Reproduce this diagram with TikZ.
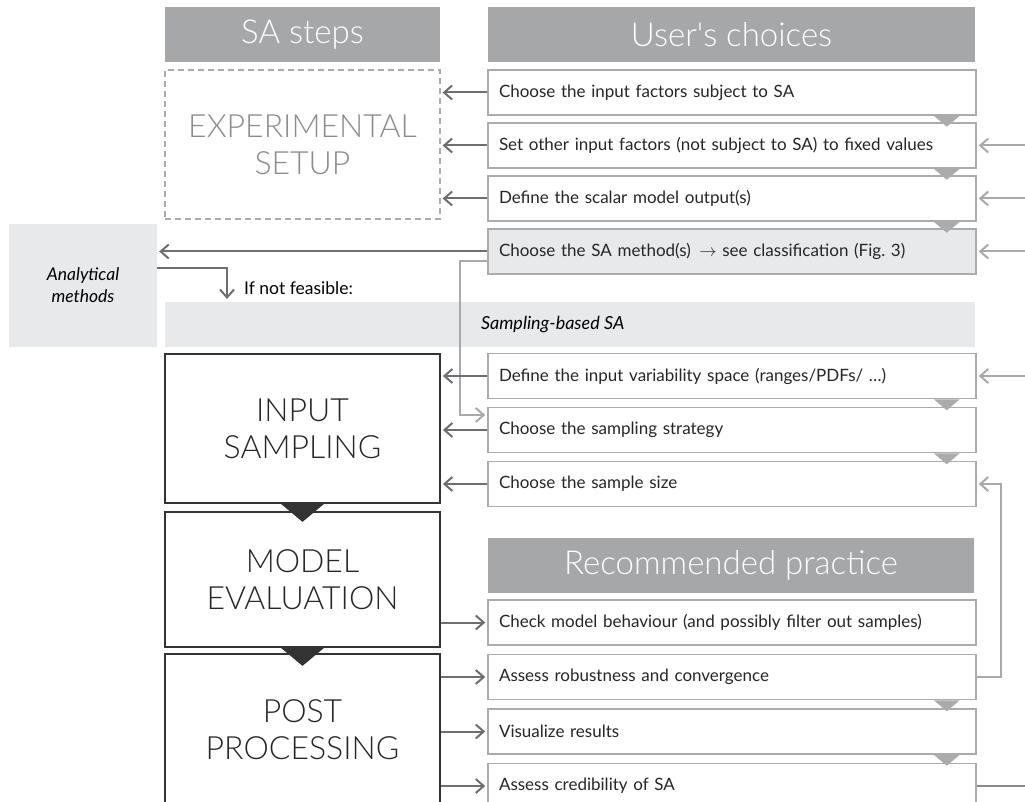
\documentclass[tikz,border=0pt]{standalone}
\usepackage{fontspec}
\setmainfont{Lato}
\newfontfamily\thinfont{Lato Light}
\usetikzlibrary{arrows.meta,calc,positioning}
\definecolor{hdrgray}{HTML}{A6A7A9}
\definecolor{bandgray}{HTML}{E8E9EA}
\definecolor{boxgray}{HTML}{ABABAB}
\definecolor{arrgray}{HTML}{6D6E71}
\definecolor{ingray}{HTML}{A7A9AC}
\definecolor{stepdark}{HTML}{333333}

\begin{document}
\begin{tikzpicture}[x=1pt,y=-1pt,
  hdr/.style={fill=hdrgray, text=white, minimum height=55pt, inner sep=0pt, font=\thinfont\fontsize{33}{38}\selectfont},
  choice/.style={draw=boxgray, line width=1.5pt, fill=white, text width=466pt, inner xsep=11pt, inner ysep=0pt, minimum height=45pt, align=left, font=\fontsize{17}{20}\selectfont, text=black!85},
  stepbox/.style={draw=stepdark, line width=1.8pt, minimum width=275pt, inner sep=0pt, align=center, font=\thinfont\fontsize{32}{37}\selectfont, text=black!85},
  band/.style={fill=bandgray, inner sep=0pt},
  darr/.style={draw=arrgray, line width=2pt, -{Straight Barb[length=8pt,width=14pt]}, shorten >=2pt},
  garr/.style={darr, draw=ingray}]
  \useasboundingbox (0,0) rectangle (1025,802);
  \coordinate (rim) at (1025,0);

  % column heads
  \node[hdr, minimum width=275pt] (hsa) at (302.5,34.5) {SA steps};
  \node[hdr, minimum width=487pt] (huc) at (731.5,34.5) {User's choices};

  % SA steps
  \node[stepbox, draw=boxgray, line width=1.2pt, dash pattern=on 6pt off 4pt, text=black!45, minimum height=149pt] (exp) at (302.5,144.5) {EXPERIMENTAL\\SETUP};
  \node[band, minimum width=148pt, minimum height=123pt, align=center, font=\itshape\fontsize{17.5}{22}\selectfont] (ana) at (83,285.5) {Analytical\\methods};
  \node[band, minimum width=810pt, minimum height=45pt] (smp) at (570,324.5) {};
  \node[right=316pt of smp.west, inner sep=0pt, font=\itshape\fontsize{18}{20}\selectfont] (smplbl) {Sampling-based SA};
  \node[anchor=west, inner sep=0pt, font=\fontsize{17.5}{20}\selectfont] (nfeas) at (244,288) {If not feasible:};
  \coordinate (nfend) at (227,301);
  \node[stepbox, minimum height=149pt] (ins) at (302.5,428.5) {INPUT\\SAMPLING};
  \node[stepbox, minimum height=135pt] (mod) at (302.5,579.5) {MODEL\\EVALUATION};
  \node[stepbox, minimum height=152pt] (post) at (302.5,730) {POST\\PROCESSING};

  % user's choices
  \node[choice] (c1) at (732,92.5) {Choose the input factors subject to SA};
  \node[choice, below=6.5pt of c1] (c2) {Set other input factors (not subject to SA) to fixed values};
  \node[choice, below=6.5pt of c2] (c3) {Define the scalar model output(s)};
  \node[choice, below=6.5pt of c3, fill=bandgray] (c4) {Choose the SA method(s) \,$\rightarrow$ see classification (Fig.\ 3)};
  \node[choice] (d1) at (732,376) {Define the input variability space (ranges/PDFs/ \dots)};
  \node[choice, below=7.5pt of d1] (d2) {Choose the sampling strategy};
  \node[choice, below=7.5pt of d2] (d3) {Choose the sample size};

  % recommended practice
  \node[hdr, minimum width=486pt] (hrp) at (731,565.5) {Recommended practice};
  \node[choice] (r1) at (732,622.5) {Check model behaviour (and possibly filter out samples)};
  \node[choice, below=8pt of r1] (r2) {Assess robustness and convergence};
  \node[choice, below=8pt of r2] (r3) {Visualize results};
  \node[choice, below=8pt of r3] (r4) {Assess credibility of SA};

  % order marks
  \foreach \b in {c1,c2,c3,d1,d2,r2,r3}
    \fill[boxgray] ($(\b.south east)+(-43,0)$) -- ++(26,0) -- ++(-13,11) -- cycle;
  \foreach \b in {ins,mod}
    \fill[stepdark] ($(\b.south)+(-21.5,0)$) -- ++(43,0) -- ++(-21.5,18) -- cycle;

  % connectors
  \foreach \c in {c1,c2,c3}
    \draw[darr] (\c.west) -- (\c.west -| exp.east);
  \draw[darr] (c4.west) -- (c4.west -| ana.east);
  \foreach \c in {c2,c3,c4,d1}
    \draw[garr] (\c.east -| rim) -- (\c.east);
  \draw[darr] ($(ana.east)+(0,-17.5)$) -| (nfend);
  \draw[garr] ($(c4.west)+(0,10)$) -- ++(-27,0) |- ($(d2.west)+(0,-15)$);
  \foreach \c in {d1,d2,d3}
    \draw[darr] (\c.west) -- (\c.west -| ins.east);
  \draw[darr] (r1.west -| mod.east) -- (r1.west);
  \foreach \r in {r2,r3,r4}
    \draw[darr] (\r.west -| post.east) -- (\r.west);
  \draw[garr] (r2.east) -- ++(24,0) |- (d3.east);
  \draw[draw=arrgray!80, line width=2pt] (r4.east) -- (r4.east -| rim);
\end{tikzpicture}
\end{document}
